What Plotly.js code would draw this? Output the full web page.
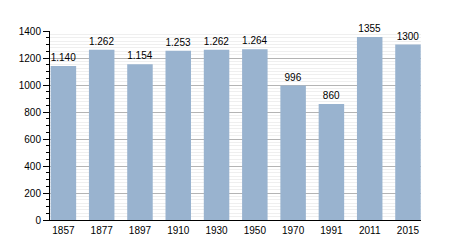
<!DOCTYPE html>
<html>
<head>
<meta charset="utf-8">
<script src="https://cdn.plot.ly/plotly-3.0.1.min.js"></script>
<style>html,body{margin:0;padding:0;background:#fff;}#chart{width:450px;height:250px;}</style>
</head>
<body>
<div id="chart"></div>
<script>
var years = ['1857','1877','1897','1910','1930','1950','1970','1991','2011','2015'];
var population = [1140, 1262, 1154, 1253, 1262, 1264, 996, 860, 1355, 1300];
var labels = ['1.140','1.262','1.154','1.253','1.262','1.264','996','860','1355','1300'];

var font = {family: 'Liberation Sans, Arial, sans-serif', size: 10, color: '#000'};

var traces = [
  {
    type: 'bar', x: years, y: population, text: labels,
    textposition: 'outside', cliponaxis: false,
    textfont: font,
    marker: {color: '#99b3cf', line: {width: 0}},
    width: 0.666, hoverinfo: 'skip', showlegend: false
  },
  {
    type: 'scatter', x: [years[0]], y: [0], yaxis: 'y2', mode: 'none',
    hoverinfo: 'skip', showlegend: false
  }
];

var layout = {
  width: 450, height: 250,
  margin: {l: 50, r: 29, t: 31, b: 30, pad: 0},
  paper_bgcolor: '#fff', plot_bgcolor: '#fff',
  font: font,
  xaxis: {
    type: 'category', range: [-0.35, 9.34], fixedrange: true,
    showline: true, linecolor: '#000', linewidth: 1,
    ticks: '', showgrid: false, zeroline: false,
    tickfont: font, ticklabelstandoff: 1
  },
  yaxis: {
    range: [0, 1400], dtick: 200, tick0: 0,
    showline: true, linecolor: '#000', linewidth: 1,
    ticks: 'outside', ticklen: 6, tickcolor: '#000', tickwidth: 1,
    showgrid: true, gridcolor: '#b4b4b4', gridwidth: 1,
    zeroline: false, tickfont: font,
    minor: {dtick: 25, tick0: 0, showgrid: true, gridcolor: '#efefef', gridwidth: 1, ticks: ''}
  },
  yaxis2: {
    overlaying: 'y', side: 'left', range: [0, 1400], dtick: 50, tick0: 0,
    showgrid: false, zeroline: false, showline: false, showticklabels: false,
    ticks: 'outside', ticklen: 3, tickcolor: '#000', tickwidth: 1
  },
  bargap: 0.334
};

Plotly.newPlot('chart', traces, layout, {staticPlot: true, displayModeBar: false});
</script>
</body>
</html>
